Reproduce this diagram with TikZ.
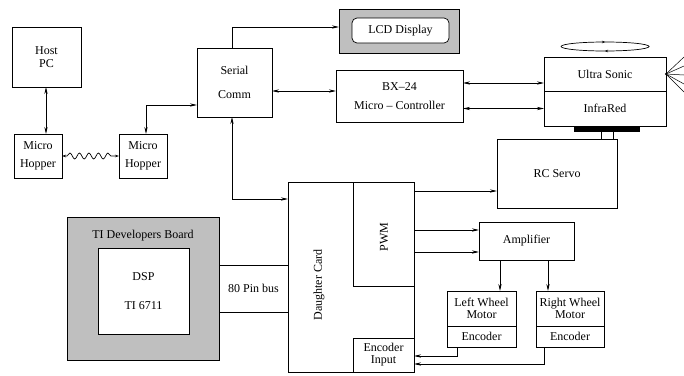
\documentclass[tikz,border=0pt]{standalone}
\usepackage{fontspec}
\setmainfont{Liberation Serif}
\usetikzlibrary{arrows.meta,calc,decorations.pathmorphing,decorations.markings}
\begin{document}
\begin{tikzpicture}[x=1pt,y=-1pt,
  font=\fontsize{12}{13.5}\selectfont,
  box/.style={draw, line width=0.7pt, rectangle, inner sep=0pt, outer sep=0pt, align=center},
  txt/.style={inner sep=0pt, outer sep=0pt, align=center},
  wire/.style={line width=0.7pt},
  ar/.style={wire, -{Stealth[length=7pt,width=3.2pt]}},
  dar/.style={wire, {Stealth[length=7pt,width=3.2pt]}-{Stealth[length=7pt,width=3.2pt]}},
  graybox/.style={box, fill=black!25}]
\useasboundingbox (0,0) rectangle (684,375);

% left part
\node[box, minimum width=69, minimum height=60] (host) at (46.5,57) {Host\\PC};
\node[box, minimum width=48, minimum height=44] (mhl) at (38,156) {Micro\\[4pt]Hopper};
\node[box, minimum width=48, minimum height=44] (mhr) at (143,156) {Micro\\[4pt]Hopper};
\node[box, minimum width=75, minimum height=69] (serial) at (234.5,82.5) {Serial\\[11pt]Comm};

% LCD
\node[graybox, minimum width=120, minimum height=44] (lcdout) at (399,31) {};
\node[box, fill=white, rounded corners=5pt, minimum width=97, minimum height=25] (lcd) at (400.5,30.5) {LCD Display};

% BX-24
\node[box, minimum width=127, minimum height=52] (bx) at (399.5,96) {BX--24\\[5pt]Micro -- Controller};

% sensors
\node[box, minimum width=122, minimum height=34] (us) at (605,74) {Ultra Sonic};
\node[box, minimum width=122, minimum height=35] (ir) at (605,108.5) {InfraRed};
\node[draw, fill=black, inner sep=0pt, minimum width=65, minimum height=5] (bar) at (606.5,128.5) {};
\node[box, minimum width=120, minimum height=69] (rc) at (557,173.5) {RC Servo};
\draw[wire] ($(bar.south)+(-5.5,0)$) -- ($(rc.north west)+(104,0)$);
\draw[wire] ($(bar.south)+(6.5,0)$) -- ($(rc.north west)+(116,0)$);

% ellipse with tips
\draw[wire, decoration={markings,
   mark=at position 0.25 with {\arrow{Stealth[length=3pt,width=2.5pt]}},
   mark=at position 0.75 with {\arrow{Stealth[length=3pt,width=2.5pt]}}},
   postaction=decorate] (605,46.5) ellipse [x radius=44, y radius=4.5];

% rays
\coordinate (ray) at (us.east);
\fill (ray) circle (1.2);
\foreach \yy in {57,66,75,84,92}{
  \draw[line width=0.5pt] (ray) -- (684,\yy);
}

% daughter card
\node[box, minimum width=126, minimum height=190] (dc) at (351,277.5) {};
\node[txt, rotate=90] (dclabel) at (319,285) {Daughter Card};
\node[box, minimum width=61, minimum height=104] (pwm) at (383.5,234) {};
\node[txt, rotate=90] (pwmlabel) at (384,237) {PWM};
\node[box, minimum width=61, minimum height=34] (encin) at (383.5,355) {Encoder\\[-1.5pt]Input};

% amplifier and wheels
\node[box, minimum width=95, minimum height=38] (amp) at (526.5,241) {Amplifier};
\node[box, minimum width=69, minimum height=35] (lwm) at (481.5,308.5) {Left Wheel\\[-1.5pt]Motor};
\node[box, minimum width=69, minimum height=21] (lwe) at (481.5,336.5) {Encoder};
\node[box, minimum width=68, minimum height=35] (rwm) at (570,308.5) {Right Wheel\\[-1.5pt]Motor};
\node[box, minimum width=68, minimum height=21] (rwe) at (570,336.5) {Encoder};

% TI board
\node[graybox, minimum width=152, minimum height=143] (ti) at (143,288.5) {};
\node[txt] (tilabel) at (143,236) {TI Developers Board};
\node[box, fill=white, minimum width=91, minimum height=86] (dsp) at (143.5,291) {DSP\\[15pt]TI 6711};
\node[txt, minimum width=69, minimum height=47] (bus) at (253.5,288.5) {80 Pin bus};
\draw[wire] (bus.north west) -- (bus.north east);
\draw[wire] (bus.south west) -- (bus.south east);

% connectors
\draw[dar] (host.south -| mhl.north east) ++(-16,0) coordinate (hp) -- (hp |- mhl.north);
\draw[wire, {Stealth[length=4pt,width=2.5pt]}-{Stealth[length=4pt,width=2.5pt]},
  decoration={snake, amplitude=3pt, segment length=9.5pt, pre length=5pt, post length=5pt},
  decorate] (mhl.east) -- (mhr.west);
\coordinate (sc1) at ($(serial.west)+(0,22.5)$);
\draw[dar] ($(mhr.north)+(3,0)$) |- (sc1);
\coordinate (sc2) at ($(lcdout.west)+(0,-4)$);
\draw[ar] ($(serial.north)+(-2.5,0)$) |- (sc2);
\coordinate (sc3) at ($(bx.west)+(0,-5)$);
\draw[dar] (serial.east |- sc3) -- (sc3);
\coordinate (b1) at ($(us.west)+(0,9)$);
\draw[dar] (bx.east |- b1) -- (b1);
\draw[dar] (bx.east |- ir.west) -- (ir.west);
\coordinate (sc4) at ($(dc.west)+(0,-78.5)$);
\draw[dar] ($(serial.south)+(-2.5,0)$) |- (sc4);

\coordinate (p1) at ($(rc.west)+(0,17.5)$);
\draw[ar] (pwm.east |- p1) -- (p1);
\coordinate (p2) at ($(amp.west)+(0,-11)$);
\coordinate (p3) at ($(amp.west)+(0,11)$);
\draw[ar] (pwm.east |- p2) -- (p2);
\draw[ar] (pwm.east |- p3) -- (p3);
\draw[ar] (amp.south -| 500,0) -- (lwm.north -| 500,0);
\draw[ar] (amp.south -| 548,0) -- (rwm.north -| 548,0);
\coordinate (e1) at (457,356);
\coordinate (e2) at (544,364);
\draw[ar] (lwe.south -| e1) -- (e1) -- (encin.east |- e1);
\draw[ar] (rwe.south -| e2) -- (e2) -- (encin.east |- e2);
\end{tikzpicture}
\end{document}
